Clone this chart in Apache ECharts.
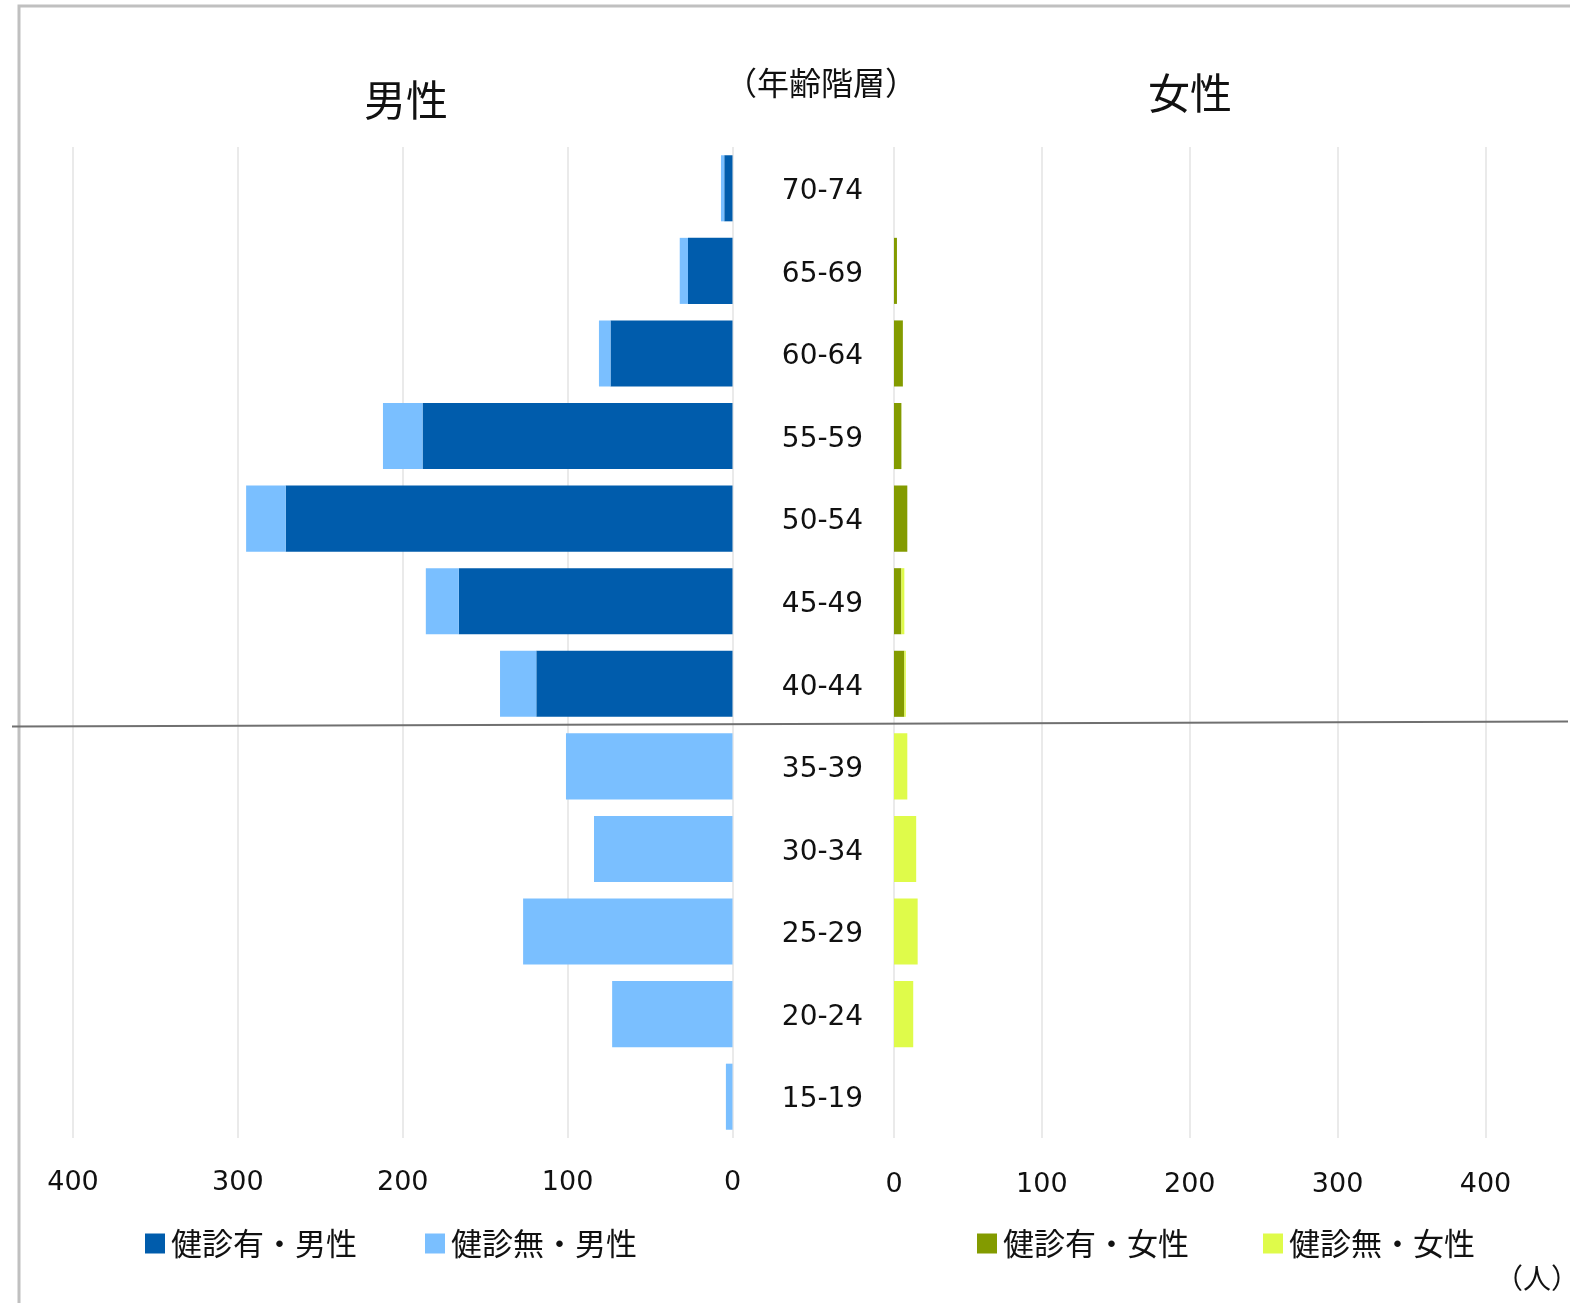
<!DOCTYPE html>
<html>
<head>
<meta charset="utf-8">
<script src="https://cdn.jsdelivr.net/npm/echarts@6/dist/echarts.min.js"></script>
<style>
html,body{margin:0;padding:0;background:#fff;}
#c{width:1570px;height:1303px;}
</style>
</head>
<body>
<div id="c"></div>
<script>
var categories = ['70-74','65-69','60-64','55-59','50-54','45-49','40-44','35-39','30-34','25-29','20-24','15-19'];
var maleYes   = [5, 27, 74, 188, 271, 166, 119, 0, 0, 0, 0, 0];
var maleNo    = [2, 5, 7, 24, 24, 20, 22, 101, 84, 127, 73, 4];
var femaleYes = [0, 2, 6, 5, 9, 5, 7, 0, 0, 0, 0, 0];
var femaleNo  = [0, 0, 0, 0, 0, 2, 1, 9, 15, 16, 13, 0];
var xTicks = [0, 100, 200, 300, 400];
var seriesNames = ['健診有・男性','健診無・男性','健診有・女性','健診無・女性'];

var colors = ['#005CAC','#7ABFFF','#839B00','#DFFB4A'];
var cjk = '"Noto Sans CJK JP", "Noto Sans", sans-serif';
var num = '"DejaVu Sans", sans-serif';

var chart = echarts.init(document.getElementById('c'));
var gridTop = 147, gridH = 991;
var valueAxisCommon = {
  type: 'value', min: xTicks[0], max: xTicks[xTicks.length-1], interval: 100,
  axisLine: {show: false}, axisTick: {show: false},
  splitLine: {show: true, lineStyle: {color: '#e3e3e3', width: 1.5}},
  axisLabel: {fontFamily: num, fontSize: 27, color: '#111'}
};
var option = {
  animation: false,
  backgroundColor: '#fff',
  grid: [
    {left: 73, right: 1570 - 732.5, top: gridTop, height: gridH},
    {left: 894, right: 1570 - 1485.5, top: gridTop, height: gridH}
  ],
  xAxis: [
    Object.assign({}, valueAxisCommon, {gridIndex: 0, inverse: true,
      axisLabel: Object.assign({}, valueAxisCommon.axisLabel, {margin: 31})}),
    Object.assign({}, valueAxisCommon, {gridIndex: 1,
      axisLabel: Object.assign({}, valueAxisCommon.axisLabel, {margin: 33})})
  ],
  yAxis: [
    {type: 'category', gridIndex: 0, data: categories, inverse: true, position: 'right',
      axisLine: {show: false}, axisTick: {show: false},
      axisLabel: {show: true, align: 'center', margin: 90, color: '#111',
        formatter: function (v) { return '{a|' + v + '}'; },
        rich: {a: {fontFamily: num, fontSize: 28, color: '#111', padding: [7, 0, 0, 0]}}}},
    {type: 'category', gridIndex: 1, data: categories, inverse: true,
      axisLine: {show: false}, axisTick: {show: false}, axisLabel: {show: false}}
  ],
  legend: [
    {data: [seriesNames[0], seriesNames[1]], left: 140, top: 1223, icon: 'rect',
      itemWidth: 20, itemHeight: 20, itemGap: 68,
      textStyle: {fontFamily: cjk, fontSize: 31, color: '#111', padding: [0,0,0,1]}},
    {data: [seriesNames[2], seriesNames[3]], left: 972, top: 1223, icon: 'rect',
      itemWidth: 20, itemHeight: 20, itemGap: 74,
      textStyle: {fontFamily: cjk, fontSize: 31, color: '#111', padding: [0,0,0,1]}}
  ],
  series: [
    {name: seriesNames[0], type: 'bar', stack: 'm', xAxisIndex: 0, yAxisIndex: 0, data: maleYes,
      barCategoryGap: '20%', itemStyle: {color: colors[0]}},
    {name: seriesNames[1], type: 'bar', stack: 'm', xAxisIndex: 0, yAxisIndex: 0, data: maleNo,
      barCategoryGap: '20%', itemStyle: {color: colors[1]}},
    {name: seriesNames[2], type: 'bar', stack: 'f', xAxisIndex: 1, yAxisIndex: 1, data: femaleYes,
      barCategoryGap: '20%', itemStyle: {color: colors[2]}},
    {name: seriesNames[3], type: 'bar', stack: 'f', xAxisIndex: 1, yAxisIndex: 1, data: femaleNo,
      barCategoryGap: '20%', itemStyle: {color: colors[3]}}
  ],
  graphic: [
    {type: 'rect', shape: {x: 19, y: 6, width: 1700, height: 1500}, z: 100,
      style: {fill: null, stroke: '#c0c0c0', lineWidth: 3}, silent: true},
    {type: 'line', shape: {x1: 12, y1: 726.5, x2: 1568, y2: 721.5}, z: 100,
      style: {stroke: '#707070', lineWidth: 2}, silent: true},
    {type: 'text', x: 406, y: 100, z: 100,
      style: {text: '男性', font: '42px ' + cjk, fill: '#111', textAlign: 'center', textVerticalAlign: 'middle'}},
    {type: 'text', x: 1190, y: 93, z: 100,
      style: {text: '女性', font: '42px ' + cjk, fill: '#111', textAlign: 'center', textVerticalAlign: 'middle'}},
    {type: 'text', x: 821, y: 83, z: 100,
      style: {text: '（年齢階層）', font: '32px ' + cjk, fill: '#111', textAlign: 'center', textVerticalAlign: 'middle'}},
    {type: 'text', x: 1537, y: 1278, z: 100,
      style: {text: '（人）', font: '28px ' + cjk, fill: '#111', textAlign: 'center', textVerticalAlign: 'middle'}}
  ]
};
chart.setOption(option);
</script>
</body>
</html>
